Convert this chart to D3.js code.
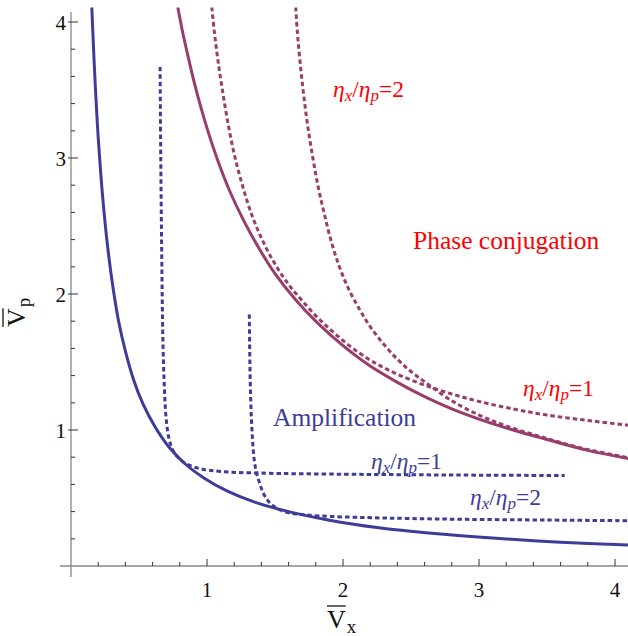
<!DOCTYPE html>
<html><head><meta charset="utf-8">
<script src="https://cdn.jsdelivr.net/npm/d3@7"></script>
<style>html,body{margin:0;padding:0;background:#fff}svg{display:block}
svg text{font-family:'Liberation Serif','Times New Roman','DejaVu Serif',serif;}</style>
</head><body>
<svg id="chart" width="628" height="636"></svg>
<script>
// ---- data ----
const xTickValues = [1, 2, 3, 4];
const yTickValues = [1, 2, 3, 4];
const xTickLabels = ["1", "2", "3", "4"];
const yTickLabels = ["1", "2", "3", "4"];

// Threshold curves [Vx, Vp]
const amplificationBoundary = [
  [0.153,4.11],[0.16,3.94],[0.17,3.71],[0.185,3.41],[0.2,3.15],[0.22,2.87],[0.245,2.58],
  [0.275,2.3],[0.31,2.04],[0.35,1.8],[0.4,1.58],[0.46,1.37],[0.53,1.19],[0.62,1.02],
  [0.72,0.875],[0.84,0.75],[0.98,0.645],[1.15,0.55],[1.35,0.47],[1.6,0.4],[1.9,0.337],
  [2.25,0.283],[2.65,0.24],[3.1,0.205],[3.6,0.175],[4.1,0.154]
];
const phaseConjBoundary = [
  [0.785,4.11],[0.82,3.93],[0.86,3.75],[0.9,3.58],[0.95,3.39],[1.0,3.22],[1.08,2.98],
  [1.17,2.75],[1.27,2.54],[1.38,2.34],[1.5,2.15],[1.65,1.96],[1.82,1.78],[2.0,1.62],
  [2.2,1.47],[2.4,1.35],[2.6,1.245],[2.8,1.155],[3.0,1.08],[3.25,1.0],[3.5,0.93],
  [3.8,0.85],[4.1,0.79]
];
const phaseConjEta1 = [
  [1.035,4.11],[1.055,3.92],[1.08,3.72],[1.11,3.52],[1.15,3.28],[1.2,3.03],[1.26,2.8],
  [1.33,2.58],[1.41,2.39],[1.5,2.22],[1.6,2.07],[1.7,1.95],[1.82,1.82],[1.95,1.7],
  [2.1,1.58],[2.25,1.485],[2.4,1.41],[2.6,1.33],[2.8,1.265],[3.0,1.21],[3.25,1.155],
  [3.5,1.11],[3.8,1.07],[4.1,1.035]
];
const phaseConjEta2 = [
  [1.652,4.11],[1.665,3.92],[1.685,3.7],[1.71,3.47],[1.74,3.24],[1.775,3.02],[1.815,2.8],
  [1.86,2.6],[1.91,2.4],[1.97,2.21],[2.04,2.04],[2.12,1.89],[2.2,1.76],[2.3,1.63],
  [2.4,1.52],[2.5,1.43],[2.62,1.34],[2.8,1.215],[3.0,1.11],[3.2,1.03],[3.45,0.952],
  [3.75,0.868],[4.1,0.796]
];
const amplificationEta1 = [
  [0.655,3.67],[0.66,3.0],[0.667,2.3],[0.675,1.7],[0.685,1.35],[0.70,1.08],[0.72,0.94],
  [0.75,0.85],[0.8,0.785],[0.86,0.745],[0.95,0.715],[1.1,0.695],[1.4,0.683],[2.0,0.675],
  [2.5,0.671],[3.0,0.668],[3.63,0.665]
];
const amplificationEta2 = [
  [1.311,1.85],[1.314,1.6],[1.318,1.35],[1.326,1.1],[1.338,0.88],[1.35,0.76],[1.365,0.68],
  [1.39,0.6],[1.414,0.535],[1.445,0.485],[1.476,0.45],[1.537,0.412],[1.6,0.392],[1.684,0.38],
  [1.83,0.368],[2.17,0.356],[2.5,0.349],[2.91,0.343],[3.5,0.338],[4.1,0.333]
];

// ---- drawing ----
const BLUE = "#3d3d99", PURPLE = "#993d6b", RED = "#ff0000";
const svg = d3.select("#chart");
const x = d3.scaleLinear().domain([0, 4.1]).range([71, 628.6]);
const y = d3.scaleLinear().domain([0, 4.1]).range([566, 8.4]);

svg.append("defs").append("clipPath").attr("id","plotclip")
  .append("rect").attr("x", x(0)).attr("y", y(4.1)-1).attr("width", x(4.1)-x(0)).attr("height", y(0)-y(4.1)+1);

// axes
const ax = svg.append("g");
ax.append("line").attr("x1", x(0)-11).attr("x2", 628).attr("y1", y(0)).attr("y2", y(0))
  .attr("stroke", "#888").attr("stroke-width", 1.3);
ax.append("line").attr("x1", x(0)).attr("x2", x(0)).attr("y1", y(0)+11).attr("y2", 12)
  .attr("stroke", "#888").attr("stroke-width", 1.3);
const minor = d3.range(1, 21).map(i => i * 0.2).filter(v => Math.abs(v - Math.round(v)) > 1e-6);
minor.forEach(v => {
  ax.append("line").attr("x1", x(v)).attr("x2", x(v)).attr("y1", y(0)).attr("y2", y(0)-4)
    .attr("stroke", "#333").attr("stroke-width", 1);
  ax.append("line").attr("x1", x(0)).attr("x2", x(0)+4).attr("y1", y(v)).attr("y2", y(v))
    .attr("stroke", "#333").attr("stroke-width", 1);
});
xTickValues.forEach((v, i) => {
  ax.append("line").attr("x1", x(v)).attr("x2", x(v)).attr("y1", y(0)).attr("y2", y(0)-7)
    .attr("stroke", "#333").attr("stroke-width", 1);
  ax.append("text").attr("x", x(v)).attr("y", 597).attr("text-anchor", "middle")
    .attr("font-size", 21).attr("fill", "#111").text(xTickLabels[i]);
});
yTickValues.forEach((v, i) => {
  ax.append("line").attr("x1", x(0)-3).attr("x2", x(0)+7).attr("y1", y(v)).attr("y2", y(v))
    .attr("stroke", "#333").attr("stroke-width", 1);
  ax.append("text").attr("x", 66).attr("y", y(v) + 8).attr("text-anchor", "end")
    .attr("font-size", 21).attr("fill", "#111").text(yTickLabels[i]);
});

// curves
const line = d3.line().x(d => x(d[0])).y(d => y(d[1])).curve(d3.curveCatmullRom.alpha(0.5));
const curves = svg.append("g").attr("clip-path", "url(#plotclip)");
const series = [
  {d: phaseConjEta1, c: PURPLE, dash: "4.5,3"},
  {d: phaseConjEta2, c: PURPLE, dash: "4.5,3"},
  {d: phaseConjBoundary, c: PURPLE, dash: null},
  {d: amplificationEta1, c: BLUE, dash: "4.5,3"},
  {d: amplificationEta2, c: BLUE, dash: "4.5,3"},
  {d: amplificationBoundary, c: BLUE, dash: null}
];
series.forEach(s => {
  curves.append("path").attr("d", line(s.d)).attr("fill", "none").attr("stroke", s.c)
    .attr("stroke-width", 3).attr("stroke-dasharray", s.dash);
});

// labels
function etaLabel(px, py, num, color) {
  const t = svg.append("text").attr("x", px).attr("y", py)
    .attr("font-size", 23.5).attr("fill", color);
  t.append("tspan").attr("font-style", "italic").text("η");
  t.append("tspan").attr("font-style", "italic").attr("font-size", 17).attr("dy", 4).text("x");
  t.append("tspan").attr("dy", -4).text("/");
  t.append("tspan").attr("font-style", "italic").text("η");
  t.append("tspan").attr("font-style", "italic").attr("font-size", 17).attr("dy", 4).text("p");
  t.append("tspan").attr("dy", -4).text("=" + num);
}
etaLabel(333, 97, "2", RED);
etaLabel(523, 396, "1", RED);
etaLabel(371, 469, "1", BLUE);
etaLabel(470, 505, "2", BLUE);

svg.append("text").attr("x", 413).attr("y", 249).attr("font-size", 25.5)
  .attr("fill", RED).text("Phase conjugation");
svg.append("text").attr("x", 273).attr("y", 426).attr("font-size", 25.5)
  .attr("fill", BLUE).text("Amplification");

// axis titles with overbar
function barLabel(g, sub) {
  const v = g.append("text").attr("x", 0).attr("y", 0)
    .attr("font-size", 26).attr("fill", "#111").text("V");
  const w = v.node().getComputedTextLength();
  g.append("line").attr("x1", 0).attr("x2", w).attr("y1", -22).attr("y2", -22)
    .attr("stroke", "#111").attr("stroke-width", 1.3);
  g.append("text").attr("x", w + 1).attr("y", 5)
    .attr("font-size", 19).attr("fill", "#111").text(sub);
}
barLabel(svg.append("g").attr("transform", "translate(327,628)"), "x");
barLabel(svg.append("g").attr("transform", "translate(25,327) rotate(-90)"), "p");
</script>
</body></html>
